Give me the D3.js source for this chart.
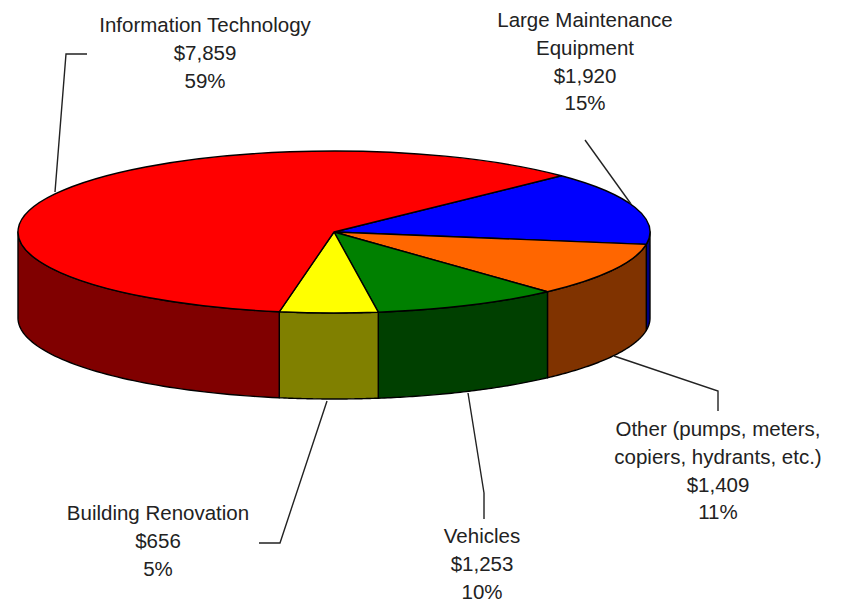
<!DOCTYPE html>
<html><head><meta charset="utf-8">
<script src="https://cdn.jsdelivr.net/npm/d3@7"></script>
<style>html,body{margin:0;padding:0;background:#fff}svg{display:block}
text{font-family:"Liberation Sans",Arial,sans-serif;font-size:20.5px;fill:#222;text-anchor:middle}</style>
</head><body><svg id="c" width="846" height="605"></svg>
<script>
// Data, in drawing order (clockwise from the blue slice)
const categories = ["Large Maintenance Equipment","Other (pumps, meters, copiers, hydrants, etc.)","Vehicles","Building Renovation","Information Technology"];
const values = [1920,1409,1253,656,7859];
const percents = ["15%","11%","10%","5%","59%"];
const topColors = ["#0000ff","#ff6600","#008000","#ffff00","#ff0000"];
const wallColors = ["#000080","#803300","#004000","#808000","#800000"];
const labelLines = [["Large Maintenance","Equipment"],["Other (pumps, meters,","copiers, hydrants, etc.)"],["Vehicles"],["Building Renovation"],["Information Technology"]];

// Layout
const cx=334, cy=232, rx=316, ry=81, depth=86;
const labelAnchor=[[585,27],[718,436],[482,543],[158,520],[205,32]];
const lineStep=27.8;
const leaders=[
 [[585,140],[631,204]],
 [[614,356],[718,391],[718,411]],
 [[468,393],[484,493],[484,519]],
 [[327,401],[280,543],[259,543]],
 [[87,54],[66,54],[55,192]]
];
const svg=d3.select("#c");
const rad=d=>d*Math.PI/180;
const pie=d3.pie().sort(null).startAngle(rad(46)).endAngle(rad(406));
const arcs=pie(values);
const px=a=>cx+rx*Math.sin(a), py=a=>cy-ry*Math.cos(a);

// Side walls: only the front half of the rim (d3 angles 90..270 deg) is visible
const wall=svg.append("g");
arcs.forEach((d,i)=>{
  const spans=[[d.startAngle,d.endAngle],[d.startAngle-2*Math.PI,d.endAngle-2*Math.PI]];
  spans.forEach(([s,e])=>{
    const a0=Math.max(s,rad(90)), a1=Math.min(e,rad(270));
    if(a1<=a0) return;
    const pts=d3.range(0,61).map(k=>a0+(a1-a0)*k/60);
    const t=pts.map(a=>[px(a),py(a)]);
    const b=pts.slice().reverse().map(a=>[px(a),py(a)+depth]);
    wall.append("path").attr("d",d3.line()(t.concat(b))+"Z")
      .attr("fill",wallColors[i]).attr("stroke","#000").attr("stroke-width",1.4).attr("stroke-linejoin","round");
  });
});

// Top face
const arcGen=d3.arc().innerRadius(0).outerRadius(rx);
svg.append("g").attr("transform",`translate(${cx},${cy}) scale(1,${ry/rx})`)
 .selectAll("path").data(arcs).join("path")
 .attr("d",arcGen).attr("fill",(d,i)=>topColors[i])
 .attr("stroke","#000").attr("stroke-width",1.4).attr("vector-effect","non-scaling-stroke").attr("stroke-linejoin","round");

// Leaders
svg.append("g").selectAll("path").data(leaders).join("path")
 .attr("d",d3.line()).attr("fill","none").attr("stroke","#222").attr("stroke-width",1.4);

// Labels
const fmt=d3.format("$,");
const g=svg.append("g");
categories.forEach((c,i)=>{
  const lines=labelLines[i].concat([fmt(values[i]),percents[i]]);
  const [x,y]=labelAnchor[i];
  lines.forEach((l,k)=>g.append("text").attr("x",x).attr("y",y+k*lineStep).text(l));
});
</script></body></html>
